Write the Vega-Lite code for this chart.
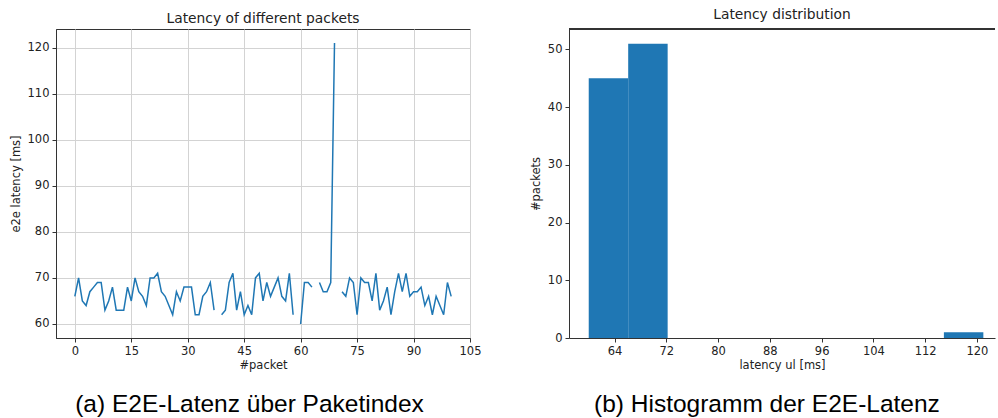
{
  "$schema": "https://vega.github.io/schema/vega-lite/v6.json",
  "padding": {"left": 9, "top": 7, "right": 0, "bottom": 0},
  "background": "white",
  "config": {
    "view": {"stroke": "#333", "strokeWidth": 1},
    "axis": {
      "domainColor": "#333", "tickColor": "#333", "tickSize": 4, "labelPadding": 3,
      "labelFont": "DejaVu Sans", "labelFontSize": 11.5, "labelColor": "#222",
      "titleFont": "DejaVu Sans", "titleFontSize": 11.5, "titleFontWeight": "normal", "titleColor": "#222",
      "gridColor": "#d3d3d3", "gridWidth": 1, "grid": false, "labelFlush": false, "labelOverlap": false
    }
  },
  "spacing": 48,
  "hconcat": [
    {
      "title": {"text": "(a) E2E-Latenz über Paketindex", "orient": "bottom", "font": "Liberation Sans", "fontSize": 24.5, "fontWeight": "normal", "color": "#000", "offset": 21, "anchor": "middle", "dx": 4},
      "vconcat": [
        {
          "width": 414,
          "height": 309,
          "title": {"text": "Latency of different packets", "font": "DejaVu Sans", "fontSize": 13.8, "fontWeight": "normal", "color": "#222", "offset": 3},
          "data": {"values": [
            {"packet": 0, "latency": 66}, {"packet": 1, "latency": 70}, {"packet": 2, "latency": 65}, {"packet": 3, "latency": 64},
            {"packet": 4, "latency": 67}, {"packet": 5, "latency": 68}, {"packet": 6, "latency": 69}, {"packet": 7, "latency": 69},
            {"packet": 8, "latency": 63}, {"packet": 9, "latency": 65}, {"packet": 10, "latency": 68}, {"packet": 11, "latency": 63},
            {"packet": 12, "latency": 63}, {"packet": 13, "latency": 63}, {"packet": 14, "latency": 68}, {"packet": 15, "latency": 65},
            {"packet": 16, "latency": 70}, {"packet": 17, "latency": 67}, {"packet": 18, "latency": 66}, {"packet": 19, "latency": 64},
            {"packet": 20, "latency": 70}, {"packet": 21, "latency": 70}, {"packet": 22, "latency": 71}, {"packet": 23, "latency": 67},
            {"packet": 24, "latency": 66}, {"packet": 25, "latency": 64}, {"packet": 26, "latency": 62}, {"packet": 27, "latency": 67},
            {"packet": 28, "latency": 65}, {"packet": 29, "latency": 68}, {"packet": 30, "latency": 68}, {"packet": 31, "latency": 68},
            {"packet": 32, "latency": 62}, {"packet": 33, "latency": 62}, {"packet": 34, "latency": 66}, {"packet": 35, "latency": 67},
            {"packet": 36, "latency": 69}, {"packet": 37, "latency": 63}, {"packet": 38, "latency": null}, {"packet": 39, "latency": 62},
            {"packet": 40, "latency": 63}, {"packet": 41, "latency": 69}, {"packet": 42, "latency": 71}, {"packet": 43, "latency": 63},
            {"packet": 44, "latency": 67}, {"packet": 45, "latency": 62}, {"packet": 46, "latency": 64}, {"packet": 47, "latency": 62},
            {"packet": 48, "latency": 70}, {"packet": 49, "latency": 71}, {"packet": 50, "latency": 65}, {"packet": 51, "latency": 69},
            {"packet": 52, "latency": 66}, {"packet": 53, "latency": 68}, {"packet": 54, "latency": 70}, {"packet": 55, "latency": 66},
            {"packet": 56, "latency": 65}, {"packet": 57, "latency": 71}, {"packet": 58, "latency": 62}, {"packet": 59, "latency": null},
            {"packet": 60, "latency": 60}, {"packet": 61, "latency": 69}, {"packet": 62, "latency": 69}, {"packet": 63, "latency": 68},
            {"packet": 64, "latency": null}, {"packet": 65, "latency": 69}, {"packet": 66, "latency": 67}, {"packet": 67, "latency": 67},
            {"packet": 68, "latency": 69}, {"packet": 69, "latency": 121}, {"packet": 70, "latency": null}, {"packet": 71, "latency": 67},
            {"packet": 72, "latency": 66}, {"packet": 73, "latency": 70}, {"packet": 74, "latency": 69}, {"packet": 75, "latency": 62},
            {"packet": 76, "latency": 70}, {"packet": 77, "latency": 69}, {"packet": 78, "latency": 69}, {"packet": 79, "latency": 65},
            {"packet": 80, "latency": 71}, {"packet": 81, "latency": 63}, {"packet": 82, "latency": 65}, {"packet": 83, "latency": 68},
            {"packet": 84, "latency": 62}, {"packet": 85, "latency": 67}, {"packet": 86, "latency": 71}, {"packet": 87, "latency": 67},
            {"packet": 88, "latency": 71}, {"packet": 89, "latency": 66}, {"packet": 90, "latency": 67}, {"packet": 91, "latency": 67},
            {"packet": 92, "latency": 68}, {"packet": 93, "latency": 64}, {"packet": 94, "latency": 66}, {"packet": 95, "latency": 62},
            {"packet": 96, "latency": 66}, {"packet": 97, "latency": 64}, {"packet": 98, "latency": 62}, {"packet": 99, "latency": 69},
            {"packet": 100, "latency": 66}
          ]},
          "mark": {"type": "line", "color": "#1f77b4", "strokeWidth": 1.5, "invalid": "break-paths-show-domains"},
          "encoding": {
            "x": {"field": "packet", "type": "quantitative",
                  "scale": {"domain": [-5, 105], "nice": false, "zero": false},
                  "axis": {"values": [0, 15, 30, 45, 60, 75, 90, 105], "title": "#packet", "grid": true, "titlePadding": 3}},
            "y": {"field": "latency", "type": "quantitative",
                  "scale": {"domain": [56.95, 124.05], "nice": false, "zero": false},
                  "axis": {"values": [60, 70, 80, 90, 100, 110, 120], "title": "e2e latency [ms]", "grid": true, "titlePadding": 6}}
          }
        }
      ]
    },
    {
      "title": {"text": "(b) Histogramm der E2E-Latenz", "orient": "bottom", "font": "Liberation Sans", "fontSize": 24.5, "fontWeight": "normal", "color": "#000", "offset": 22, "anchor": "middle", "dx": 4},
      "vconcat": [
        {
          "width": 426,
          "height": 309,
          "title": {"text": "Latency distribution", "font": "DejaVu Sans", "fontSize": 13.8, "fontWeight": "normal", "color": "#222", "offset": 7},
          "view": {"stroke": null},
          "data": {"values": [
            {"bin_start": 60.0, "bin_end": 66.1, "count": 45},
            {"bin_start": 66.1, "bin_end": 72.2, "count": 51},
            {"bin_start": 72.2, "bin_end": 78.3, "count": 0},
            {"bin_start": 78.3, "bin_end": 84.4, "count": 0},
            {"bin_start": 84.4, "bin_end": 90.5, "count": 0},
            {"bin_start": 90.5, "bin_end": 96.6, "count": 0},
            {"bin_start": 96.6, "bin_end": 102.7, "count": 0},
            {"bin_start": 102.7, "bin_end": 108.8, "count": 0},
            {"bin_start": 108.8, "bin_end": 114.9, "count": 0},
            {"bin_start": 114.9, "bin_end": 121.0, "count": 1}
          ]},
          "layer": [
            {
              "mark": {"type": "bar", "color": "#1f77b4"},
              "encoding": {
                "x": {"field": "bin_start", "type": "quantitative",
                      "scale": {"domain": [56.95, 122.8], "nice": false, "zero": false},
                      "axis": {"values": [64, 72, 80, 88, 96, 104, 112, 120], "title": "latency ul [ms]", "titlePadding": 3}},
                "x2": {"field": "bin_end"},
                "y": {"field": "count", "type": "quantitative",
                      "scale": {"domain": [0, 53.55], "nice": false},
                      "axis": {"values": [0, 10, 20, 30, 40, 50], "title": "#packets", "titlePadding": 6}},
                "y2": {"datum": 0}
              }
            },
            {
              "mark": {"type": "rule", "color": "#333", "strokeWidth": 1},
              "encoding": {
                "y": {"datum": 53.55}
              }
            }
          ]
        }
      ]
    }
  ]
}
